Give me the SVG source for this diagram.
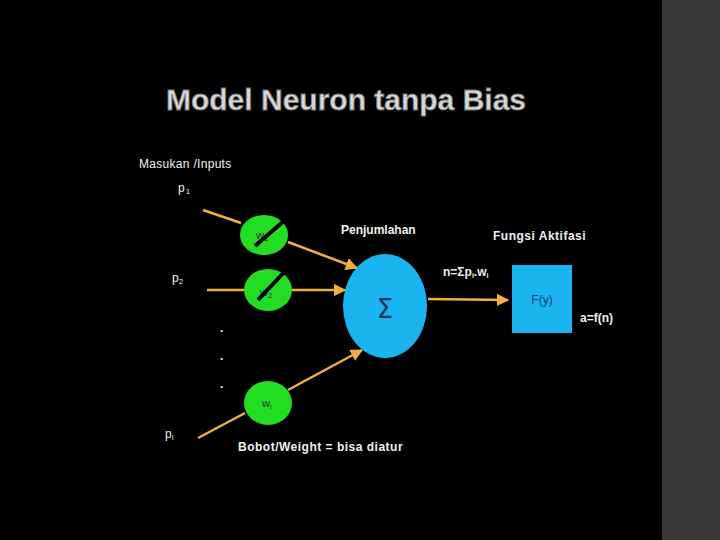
<svg xmlns="http://www.w3.org/2000/svg" width="720" height="540" viewBox="0 0 720 540">
<defs>
<marker id="ah" viewBox="0 0 10 10" refX="9" refY="5" markerWidth="5" markerHeight="5" orient="auto"><path d="M0,0L10,5L0,10z" fill="#f0b040"/></marker>
<style>
.t{font-family:"Liberation Sans",Arial,sans-serif;fill:#f0f0f0;font-size:12px}
.b{font-weight:bold}
.c{stroke:#f0b040;stroke-width:2.5;fill:none}
.w{fill:#22dd22}
.s{stroke:#000;stroke-width:4}
</style>
</defs>
<rect width="720" height="540" fill="#000"/>
<rect x="662" y="0" width="58" height="540" fill="#3a3a3a"/>
<text x="346" y="110" text-anchor="middle" font-family="Liberation Sans,Arial,sans-serif" font-size="30" font-weight="bold" fill="#d8d8d8" stroke="#777" stroke-width="0.8">Model Neuron tanpa Bias</text>
<text class="t" x="139" y="168" letter-spacing="0.3">Masukan /Inputs</text>
<text class="t" x="178" y="192" letter-spacing="1">p<tspan font-size="8" dy="2">1</tspan></text>
<text class="t" x="172" y="282">p<tspan font-size="8" dy="2">2</tspan></text>
<text class="t" x="165" y="438">p<tspan font-size="8" dy="2">i</tspan></text>
<g id="connectors">
<line class="c" x1="203" y1="210" x2="241" y2="223"/>
<line class="c" x1="288" y1="242" x2="357" y2="268" marker-end="url(#ah)"/>
<line class="c" x1="207" y1="290" x2="244" y2="290" stroke-width="2"/>
<line class="c" x1="292" y1="290" x2="345" y2="290" stroke-width="2" marker-end="url(#ah)"/>
<line class="c" x1="198" y1="438" x2="245" y2="413"/>
<line class="c" x1="288" y1="390" x2="362" y2="350" marker-end="url(#ah)"/>
<line class="c" x1="428" y1="299" x2="508" y2="300" marker-end="url(#ah)"/>
</g>
<g id="w1"><ellipse class="w" cx="264" cy="235" rx="24" ry="20"/><text x="256" y="239" font-family="Liberation Sans,Arial,sans-serif" font-size="11" fill="#333">w<tspan font-size="8" dy="2">1</tspan></text><line class="s" x1="255" y1="246" x2="285" y2="220"/></g>
<g id="w2"><ellipse class="w" cx="268" cy="290" rx="24" ry="21"/><text x="260" y="296" font-family="Liberation Sans,Arial,sans-serif" font-size="11" fill="#333">w<tspan font-size="8" dy="2">2</tspan></text><line class="s" x1="258" y1="300" x2="288" y2="268"/></g>
<g id="wi"><ellipse class="w" cx="268" cy="403" rx="24" ry="22"/><text x="262" y="407" font-family="Liberation Sans,Arial,sans-serif" font-size="11" fill="#333">w<tspan font-size="8" dy="2">i</tspan></text></g>
<g id="sum"><ellipse cx="385" cy="306" rx="42" ry="52" fill="#1ab4f0"/><text x="385" y="318" text-anchor="middle" font-family="DejaVu Sans,sans-serif" font-size="26" fill="#113355">Σ</text></g>
<g id="f"><rect x="512" y="265" width="60" height="68" fill="#1ab4f0"/><text x="542" y="304" text-anchor="middle" font-family="Liberation Sans,Arial,sans-serif" font-size="12" fill="#114477">F(y)</text></g>
<text class="t b" x="220" y="332">.</text><text class="t b" x="220" y="360">.</text><text class="t b" x="220" y="388">.</text>
<text class="t b" x="341" y="234">Penjumlahan</text>
<text class="t b" x="493" y="240" letter-spacing="0.5">Fungsi Aktifasi</text>
<text class="t b" x="443" y="276">n=Σp<tspan font-size="7" dy="2">i</tspan><tspan dy="-2">.w</tspan><tspan font-size="7" dy="2">i</tspan></text>
<text class="t b" x="580" y="322" font-size="11">a=f(n)</text>
<text class="t b" x="238" y="451" letter-spacing="0.5">Bobot/Weight = bisa diatur</text>
</svg>
